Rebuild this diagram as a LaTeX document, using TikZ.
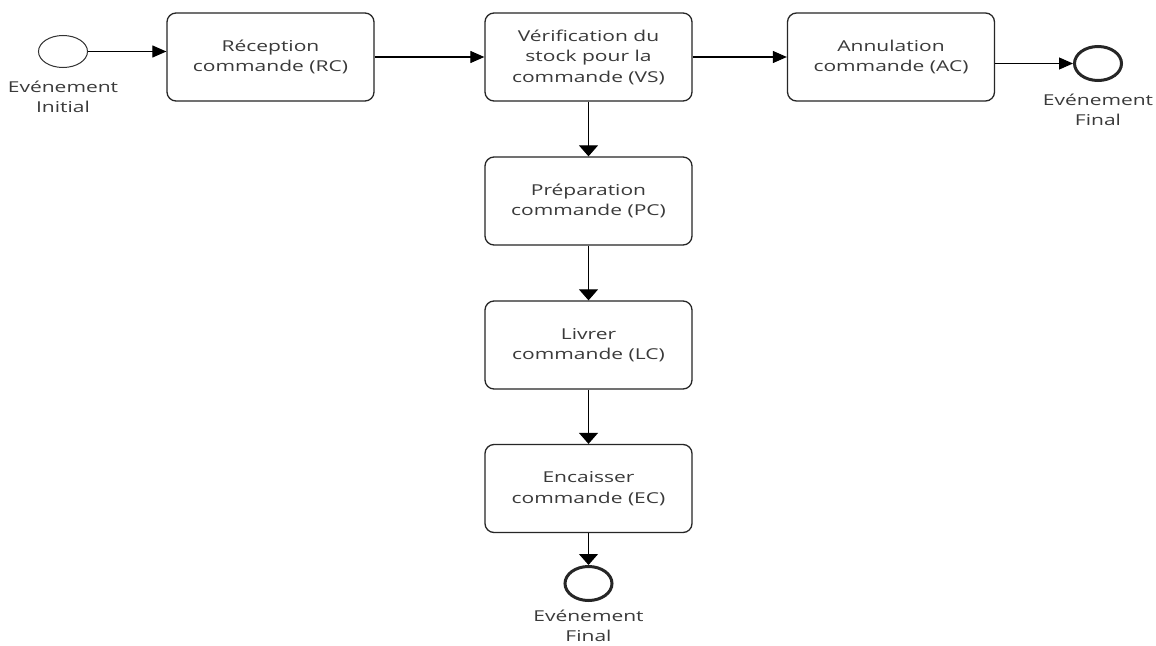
\documentclass[tikz,border=0pt]{standalone}
\usepackage{fontspec}
\setmainfont[FakeStretch=1.4]{Open Sans}
\usetikzlibrary{shapes.geometric,arrows.meta}
\definecolor{txt}{HTML}{3A3A3A}
\tikzset{
  task/.style={draw=black!85, line width=1.3pt, rounded corners=9pt,
    minimum width=207pt, minimum height=88pt, inner sep=0pt,
    align=center, text=txt, font=\fontsize{15}{20.5}\selectfont},
  startev/.style={draw=black!80, line width=1pt, ellipse, inner sep=0pt,
    minimum width=49pt, minimum height=32pt},
  endev/.style={draw=black!85, line width=3pt, ellipse, inner sep=0pt,
    minimum width=47pt, minimum height=34pt},
  evlabel/.style={anchor=north, align=center, text=txt, inner sep=0pt,
    font=\fontsize{15}{20}\selectfont},
  flow/.style={draw=black, line width=1.1pt},
  hflow/.style={flow, -{Triangle[length=14pt,width=12pt]}},
  vflow/.style={flow, -{Triangle[length=11pt,width=19pt]}},
}
\begin{document}
\begin{tikzpicture}[x=1pt, y=-1pt]
\useasboundingbox[fill=white] (0,0) rectangle (1156,645);

% events
\node[startev] (start) at (63,51.5) {};
\node[evlabel] (startlbl) at (63,81) {Evénement\\Initial};
\node[endev] (endr) at (1098,63.5) {};
\node[evlabel] (endrlbl) at (1098,94) {Evénement\\Final};
\node[endev] (endb) at (588.5,583.5) {};
\node[evlabel] (endblbl) at (588.5,610) {Evénement\\Final};

% tasks
\node[task] (rc) at (270.5,57) {Réception\\commande (RC)};
\node[task] (vs) at (588.5,57) {Vérification du\\stock pour la\\commande (VS)};
\node[task] (ac) at (891,57) {Annulation\\commande (AC)};
\node[task] (pc) at (588.5,201) {Préparation\\commande (PC)};
\node[task] (lc) at (588.5,345) {Livrer\\commande (LC)};
\node[task] (ec) at (588.5,488.5) {Encaisser\\commande (EC)};

% sequence flows
\draw[hflow] (start.east) -- (start.east -| rc.west);
\draw[hflow] (rc.east) -- (vs.west);
\draw[hflow] (vs.east) -- (ac.west);
\draw[hflow] (ac.east |- endr.west) -- (endr.west);
\draw[vflow] (vs.south) -- (pc.north);
\draw[vflow] (pc.south) -- (lc.north);
\draw[vflow] (lc.south) -- (ec.north);
\draw[vflow] (ec.south) -- (endb.north);
\end{tikzpicture}
\end{document}
